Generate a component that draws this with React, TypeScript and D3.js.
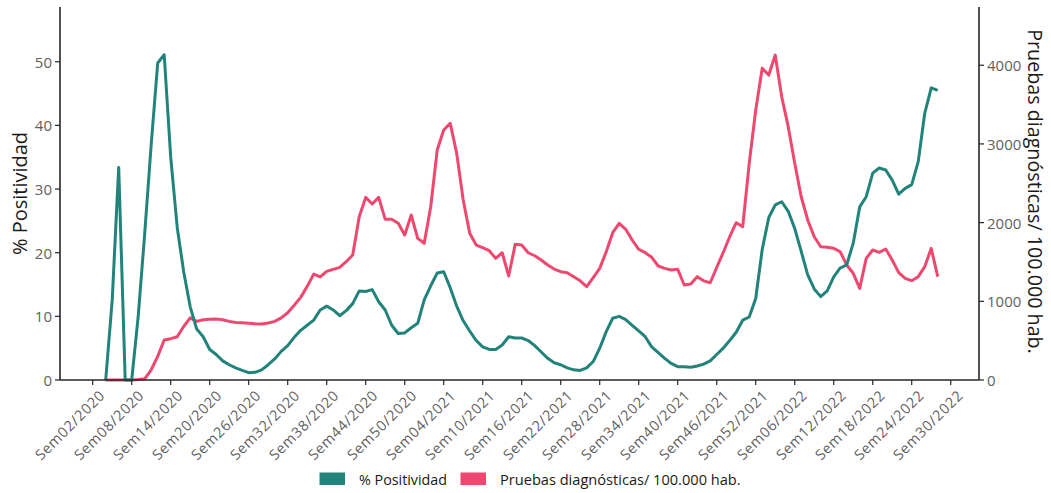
import React from "react";
import * as d3 from "d3";

// Categories: epidemiological weeks
const yearWeeks: [number, number][] = [
  [2020, 52],
  [2021, 52],
  [2022, 34],
];
const weeks: string[] = yearWeeks.flatMap(([y, n]) =>
  d3.range(1, n + 1).map((w) => `Sem${String(w).padStart(2, "0")}/${y}`)
);

const tickLabels = [
  "Sem02/2020", "Sem08/2020", "Sem14/2020", "Sem20/2020", "Sem26/2020", "Sem32/2020",
  "Sem38/2020", "Sem44/2020", "Sem50/2020", "Sem04/2021", "Sem10/2021", "Sem16/2021",
  "Sem22/2021", "Sem28/2021", "Sem34/2021", "Sem40/2021", "Sem46/2021", "Sem52/2021",
  "Sem06/2022", "Sem12/2022", "Sem18/2022", "Sem24/2022", "Sem30/2022",
];

const firstWeek = "Sem04/2020";

// % Positividad (left axis)
const positividad = [
  0, 12.5, 33.4, 0, 0, 10, 23, 37, 49.8, 51.1,
  35, 24, 17, 11.5, 8, 6.8, 4.8, 4.0, 3.0, 2.4,
  1.9, 1.5, 1.15, 1.2, 1.6, 2.4, 3.3, 4.5, 5.4, 6.7,
  7.8, 8.6, 9.4, 11.0, 11.6, 11.0, 10.1, 10.9, 12.0, 14.0,
  13.9, 14.2, 12.3, 11.0, 8.6, 7.3, 7.4, 8.2, 8.9, 12.6,
  14.8, 16.8, 17.0, 14.5, 11.6, 9.3, 7.7, 6.2, 5.2, 4.8,
  4.8, 5.5, 6.8, 6.6, 6.6, 6.2, 5.4, 4.4, 3.4, 2.7,
  2.4, 1.9, 1.6, 1.5, 1.9, 2.9, 5.0, 7.6, 9.7, 10.0,
  9.5, 8.6, 7.7, 6.8, 5.2, 4.3, 3.4, 2.6, 2.1, 2.1,
  2.0, 2.2, 2.5, 3.0, 4.0, 5.0, 6.2, 7.5, 9.4, 9.9,
  12.8, 20.5, 25.5, 27.5, 28.0, 26.5, 23.8, 20.2, 16.5, 14.3,
  13.1, 14.0, 16.2, 17.6, 18.1, 21.5, 27.2, 28.8, 32.5, 33.3,
  33.0, 31.4, 29.2, 30.1, 30.7, 34.3, 41.9, 45.9, 45.5,
];

// Pruebas diagnósticas / 100.000 hab. (right axis)
const pruebas = [
  0, 0, 0, 0, 0, 5, 15, 130, 300, 508,
  525, 550, 680, 790, 745, 765, 773, 775, 765, 745,
  730, 728, 722, 715, 712, 725, 745, 790, 855, 950,
  1050, 1190, 1345, 1310, 1380, 1406, 1432, 1503, 1588, 2075,
  2321, 2236, 2321, 2042, 2042, 1991, 1842, 2097, 1800, 1737,
  2202, 2922, 3177, 3262, 2880, 2287, 1864, 1715, 1681, 1643,
  1546, 1617, 1321, 1724, 1715, 1617, 1579, 1525, 1461, 1410,
  1376, 1364, 1313, 1260, 1186, 1300, 1419, 1630, 1872, 1991,
  1915, 1779, 1661, 1618, 1559, 1449, 1419, 1398, 1407, 1207,
  1220, 1313, 1260, 1236, 1430, 1620, 1821, 1999, 1948, 2753,
  3431, 3961, 3875, 4130, 3600, 3219, 2753, 2329, 2033, 1821,
  1694, 1686, 1673, 1630, 1461, 1356, 1165, 1546, 1652, 1622,
  1665, 1525, 1364, 1292, 1262, 1313, 1440, 1673, 1313,
];

const leftTicks = [0, 10, 20, 30, 40, 50];
const rightTicks = [0, 1000, 2000, 3000, 4000];

const TEAL = "#22837b";
const PINK = "#ef4870";
const FONT = "'Open Sans', sans-serif";

export default function App() {
  const W = 1051;
  const H = 493;
  const left = 60;
  const right = 979;
  const top = 7;
  const bottom = 380;

  const x = d3.scaleLinear().domain([-4.03, 137.35]).range([left, right]);
  const yL = d3.scaleLinear().domain([0, 58.6]).range([bottom, top]);
  const yR = d3.scaleLinear().domain([0, 4740]).range([bottom, top]);

  const start = weeks.indexOf(firstWeek);

  const lineL = d3
    .line<number>()
    .x((_, k) => x(start + k))
    .y((d) => yL(d));
  const lineR = d3
    .line<number>()
    .x((_, k) => x(start + k))
    .y((d) => yR(d));

  const axisColor = "#262626";
  const tickText = "#5f5f5f";

  return (
    <svg
      width={W}
      height={H}
      style={{ position: "absolute", left: 0, top: 0, background: "#fff" }}
      fontFamily={FONT}
    >
      {/* lines */}
      <path d={lineR(pruebas) || ""} fill="none" stroke={PINK} strokeWidth={3} strokeLinejoin="round" />
      <path d={lineL(positividad) || ""} fill="none" stroke={TEAL} strokeWidth={3} strokeLinejoin="round" />

      {/* axes lines */}
      <line x1={left} x2={left} y1={top} y2={bottom} stroke={axisColor} strokeWidth={1.6} />
      <line x1={right} x2={right} y1={top} y2={bottom} stroke={axisColor} strokeWidth={1.6} />
      <line x1={left} x2={right} y1={bottom} y2={bottom} stroke={axisColor} strokeWidth={1.6} />

      {/* left ticks */}
      {leftTicks.map((t) => (
        <g key={"l" + t}>
          <line x1={left - 5} x2={left} y1={yL(t)} y2={yL(t)} stroke={axisColor} strokeWidth={1.2} />
          <text x={left - 8} y={yL(t)} textAnchor="end" dominantBaseline="central" fontSize={15} fill={tickText}>
            {t}
          </text>
        </g>
      ))}

      {/* right ticks */}
      {rightTicks.map((t) => (
        <g key={"r" + t}>
          <line x1={right} x2={right + 5} y1={yR(t)} y2={yR(t)} stroke={axisColor} strokeWidth={1.2} />
          <text x={right + 8} y={yR(t)} textAnchor="start" dominantBaseline="central" fontSize={15} fill={tickText}>
            {t}
          </text>
        </g>
      ))}

      {/* x ticks */}
      {tickLabels.map((lab) => {
        const xp = x(weeks.indexOf(lab));
        return (
          <g key={lab}>
            <line x1={xp} x2={xp} y1={bottom} y2={bottom + 5} stroke={axisColor} strokeWidth={1.2} />
            <text
              transform={`translate(${xp + 6},${bottom + 9}) rotate(-45)`}
              textAnchor="end"
              dy="0.71em"
              fontSize={14.5}
              letterSpacing={0.7}
              fill={tickText}
            >
              {lab}
            </text>
          </g>
        );
      })}

      {/* axis titles */}
      <text transform={`translate(26.5,193.5) rotate(-90)`} textAnchor="middle" fontSize={20} fill="#1a1a1a">
        % Positividad
      </text>
      <text transform={`translate(1028,191.5) rotate(90)`} textAnchor="middle" fontSize={19.7} fill="#1a1a1a">
        Pruebas diagnósticas/ 100.000 hab.
      </text>

      {/* legend */}
      <rect x={319.5} y={472.5} width={25.5} height={12.5} fill={TEAL} />
      <text x={359} y={479} dominantBaseline="central" fontSize={14.3} fill="#1a1a1a">
        % Positividad
      </text>
      <rect x={460.5} y={472.5} width={25.5} height={12.5} fill={PINK} />
      <text x={500} y={479} dominantBaseline="central" fontSize={14.6} fill="#1a1a1a">
        Pruebas diagnósticas/ 100.000 hab.
      </text>
    </svg>
  );
}
